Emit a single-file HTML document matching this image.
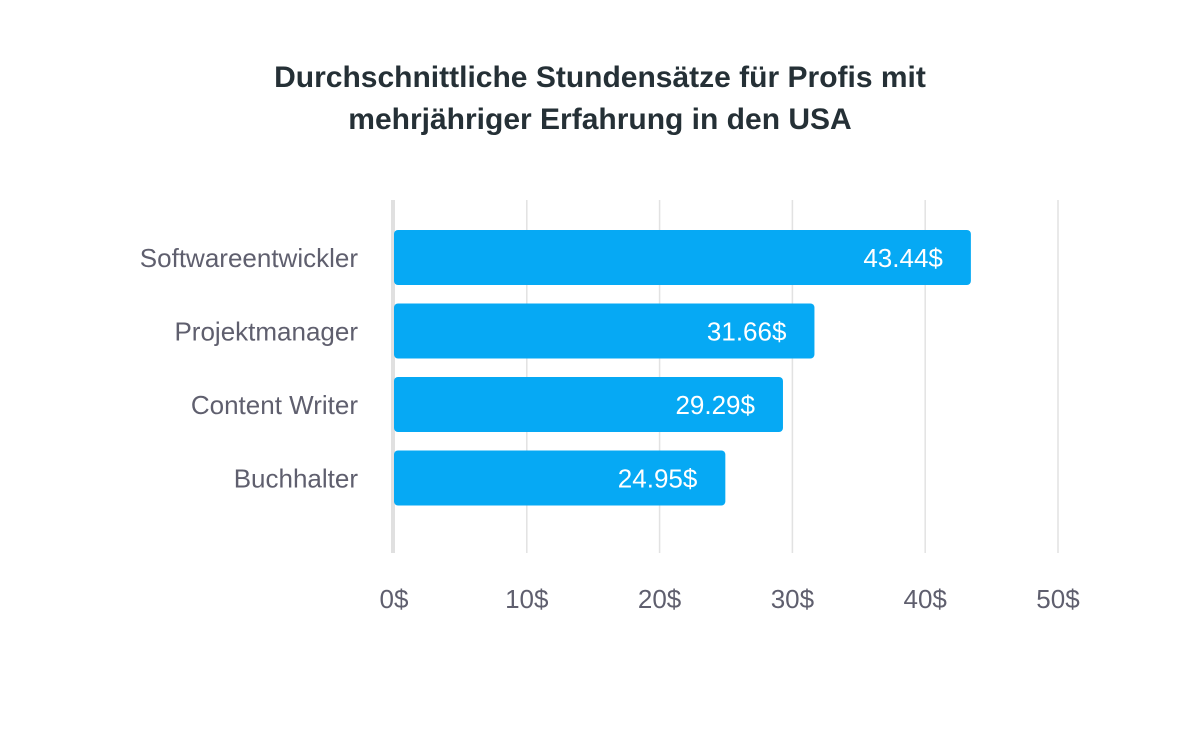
<!DOCTYPE html>
<html><head><meta charset="utf-8"><style>
body{margin:0;background:#fff;}
svg text{font-family:"Liberation Sans",sans-serif;}
</style></head><body>
<svg width="1200" height="733" viewBox="0 0 1200 733">
<text x="600" y="87" text-anchor="middle" font-size="30" font-weight="bold" fill="#253036">Durchschnittliche Stundensätze für Profis mit</text>
<text x="600" y="129" text-anchor="middle" font-size="30" font-weight="bold" fill="#253036">mehrjähriger Erfahrung in den USA</text>
<g id="grid"></g><g id="bars"></g>
</svg>
<script>
const categories=["Softwareentwickler","Projektmanager","Content Writer","Buchhalter"];
const values=[43.44,31.66,29.29,24.95];
const valueLabels=["43.44$","31.66$","29.29$","24.95$"];
const ticks=[0,10,20,30,40,50];
const tickLabels=["0$","10$","20$","30$","40$","50$"];
const NS="http://www.w3.org/2000/svg";
const x0=394,scale=13.28;
const xs=v=>x0+v*scale;
const ys=i=>230+i*73.5;
const g=document.getElementById('grid'),b=document.getElementById('bars');
function mk(tag,attrs,parent,text){const e=document.createElementNS(NS,tag);for(const k in attrs)e.setAttribute(k,attrs[k]);if(text)e.textContent=text;parent.appendChild(e);return e;}
ticks.forEach((t,i)=>{
 if(i>0){const l=mk('line',{x1:xs(t),x2:xs(t),y1:200,y2:553,stroke:'#e2e2e2','stroke-width':1.5},g);
 
 }
 const tx=mk('text',{x:xs(t),y:608,'text-anchor':'middle','font-size':26,fill:'#5f5f6e'},g,tickLabels[i]);
 
 
});
const ax=mk('rect',{x:391,y:200,width:4,height:353,fill:'#e0e0e0'},g);


categories.forEach((c,i)=>{
 const y=ys(i);
 const r=mk('rect',{x:x0,y:y,width:xs(values[i])-x0,height:55,rx:4,fill:'#06a9f4'},b);
 
 
 const l=mk('text',{x:358,y:y+37,'text-anchor':'end','font-size':26,fill:'#5f5f6e'},b,c);
 
 
 const v=mk('text',{x:xs(values[i])-28,y:y+37,'text-anchor':'end','font-size':26,fill:'#fff'},b,valueLabels[i]);
 
 
});
</script>
</body></html>
